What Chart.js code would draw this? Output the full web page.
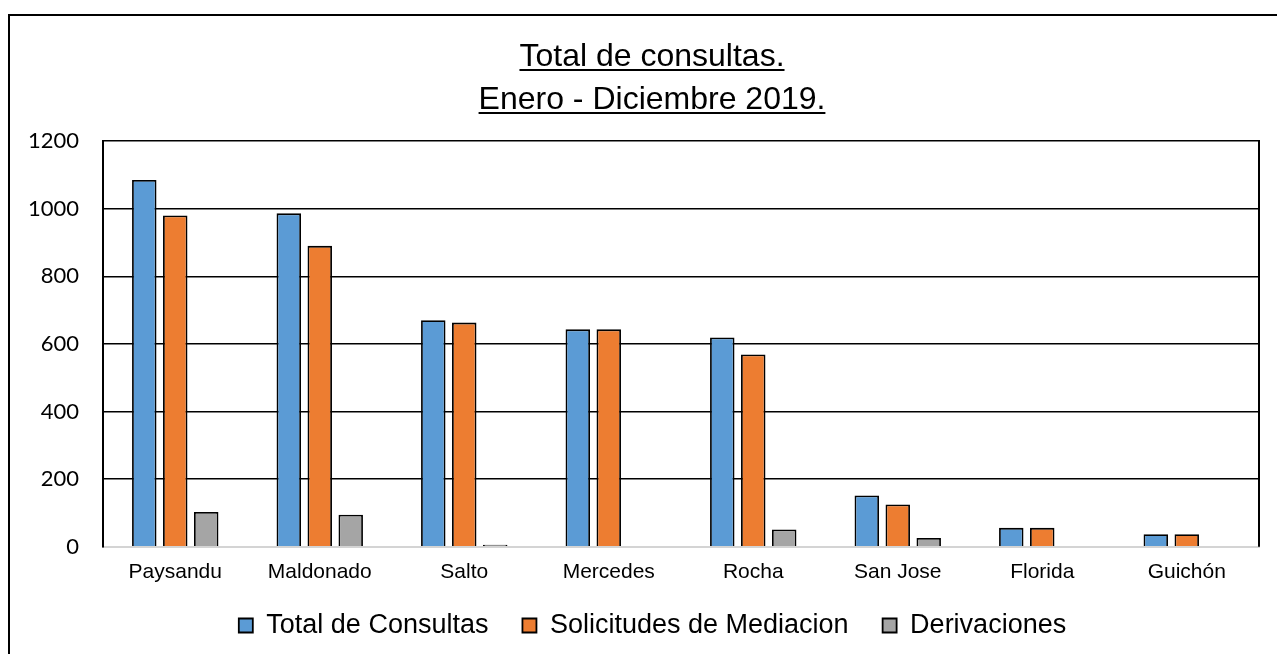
<!DOCTYPE html>
<html>
<head>
<meta charset="utf-8">
<script src="https://cdn.jsdelivr.net/npm/chart.js@4.4.1/dist/chart.umd.min.js"></script>
<style>
  html, body { margin: 0; padding: 0; background: #fff; overflow: hidden; }
  #wrap { position: relative; width: 1277px; height: 654px; }
  #frame { position: absolute; left: 8px; top: 14px; width: 1300px; height: 700px;
           border-left: 2px solid #000; border-top: 2px solid #000; box-sizing: border-box; }
  #title { position: absolute; left: 352px; top: 34px; width: 600px; text-align: center;
           font-family: "Liberation Sans", Arial, sans-serif; font-size: 32px; line-height: 43px;
           color: #000; text-decoration: underline; text-decoration-thickness: 2px;
           text-underline-offset: 3px; }
  canvas { position: absolute; left: 0; top: 0; }
</style>
</head>
<body>
<div id="wrap">
  <div id="frame"></div>
  <canvas id="chart" width="1277" height="654"></canvas>
  <div id="title">Total de consultas.<br>Enero - Diciembre 2019.</div>
</div>
<script>
// datos
const categorias = ["Paysandu", "Maldonado", "Salto", "Mercedes", "Rocha", "San Jose", "Florida", "Guichón"];
const totalConsultas = [1085, 986, 670, 643, 619, 152, 56, 37];
const solicitudesMediacion = [980, 890, 663, 643, 569, 125, 56, 37];
const derivaciones = [103, 95, 6, null, 51, 26, null, null];
const yTicks = [0, 200, 400, 600, 800, 1000, 1200];

// borde derecho del area de trazado + leyenda un poco a la derecha
const extras = {
    id: "extras",
    afterLayout(chart) {
        chart.legend.left += 46;
    },
    afterDraw(chart) {
        const { ctx, chartArea } = chart;
        ctx.save();
        ctx.strokeStyle = "#000";
        ctx.lineWidth = 2;
        ctx.beginPath();
        ctx.moveTo(chartArea.right, chartArea.top - 1);
        ctx.lineTo(chartArea.right, chartArea.bottom);
        ctx.stroke();
        ctx.restore();
    }
};

const barStyle = { borderColor: "#000", borderWidth: 1.8, categoryPercentage: 0.643, barPercentage: 0.79 };

new Chart(document.getElementById("chart"), {
    type: "bar",
    data: {
        labels: categorias,
        datasets: [
            { label: "Total de Consultas", data: totalConsultas, backgroundColor: "#5b9bd5", ...barStyle },
            { label: "Solicitudes de Mediacion", data: solicitudesMediacion, backgroundColor: "#ed7d31", ...barStyle },
            { label: "Derivaciones", data: derivaciones, backgroundColor: "#a5a5a5", ...barStyle }
        ]
    },
    options: {
        responsive: false,
        animation: false,
        layout: { padding: { top: 141, left: 0, right: 18, bottom: 5 } },
        plugins: {
            tooltip: { enabled: false },
            legend: {
                position: "bottom",
                // titulo vacio: solo para subir la fila de la leyenda
                title: { display: true, text: "", font: { size: 10 }, padding: { top: 0, bottom: -32 } },
                labels: {
                    color: "#000",
                    font: { family: "'Liberation Sans', Arial, sans-serif", size: 27 },
                    boxWidth: 14,
                    boxHeight: 14,
                    padding: 34
                }
            }
        },
        scales: {
            x: {
                grid: { display: false, drawTicks: false },
                border: { color: "#d4d4d4", width: 2 },
                ticks: {
                    color: "#000",
                    padding: 13,
                    font: { family: "'Liberation Sans', Arial, sans-serif", size: 21 }
                }
            },
            y: {
                min: 0,
                max: 1200,
                afterBuildTicks(scale) { scale.ticks = yTicks.map(v => ({ value: v })); },
                grid: {
                    drawTicks: false,
                    lineWidth: 1.5,
                    color: (c) => c.tick && c.tick.value === 0 ? "#d4d4d4" : "#000"
                },
                border: { color: "#000", width: 2 },
                ticks: {
                    color: "#000",
                    padding: 24,
                    font: { family: "Lato, sans-serif", size: 22 },
                    callback: (v) => String(v)
                },
                afterFit(scale) { scale.width = 103; }
            }
        }
    },
    plugins: [extras]
});
</script>
</body>
</html>
